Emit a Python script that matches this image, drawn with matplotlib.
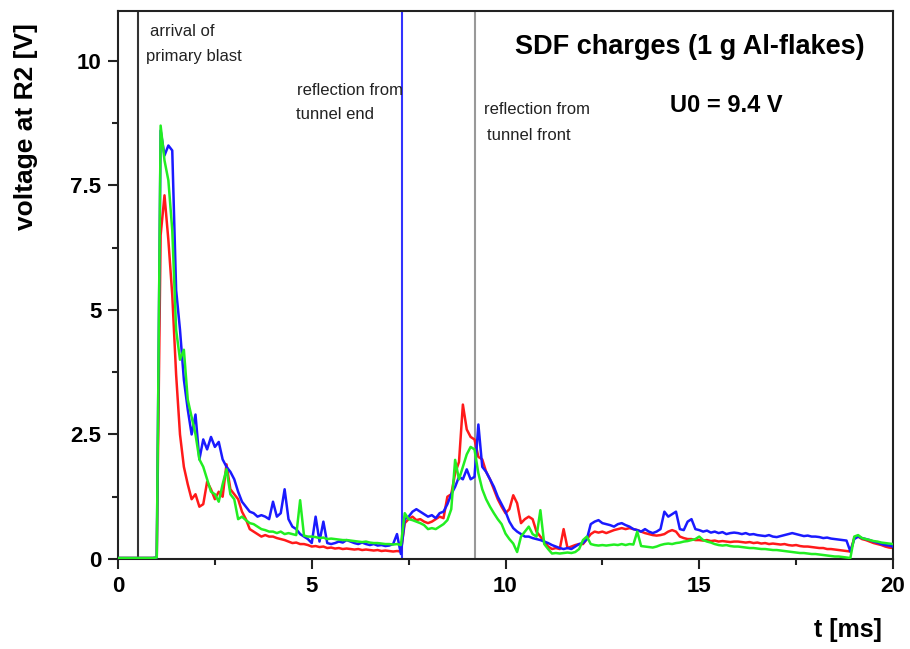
import numpy as np
import matplotlib
matplotlib.use("Agg")
import matplotlib.pyplot as plt

# time axis: 0 .. 20 ms in 0.1 ms steps
t_start, t_stop, t_step = 0.0, 20.0, 0.1

blue = [
    0.02, 0.02, 0.02, 0.02, 0.02, 0.02, 0.02, 0.02, 0.02, 0.02,
    0.03, 8.6, 8.1, 8.3, 8.2, 5.4, 4.6, 3.6, 3.0, 2.5,
    2.9, 2.0, 2.4, 2.2, 2.45, 2.25, 2.35, 2.0, 1.85, 1.75,
    1.6, 1.35, 1.15, 1.05, 0.95, 0.92, 0.85, 0.88, 0.85, 0.8,
    1.15, 0.85, 0.92, 1.4, 0.8, 0.65, 0.6, 0.5, 0.45, 0.4,
    0.32, 0.85, 0.35, 0.75, 0.32, 0.3, 0.32, 0.35, 0.33, 0.38,
    0.35, 0.32, 0.3, 0.33, 0.3, 0.28, 0.3, 0.27, 0.28, 0.26,
    0.27, 0.3, 0.5, 0.1, 0.8, 0.85, 0.95, 1.0, 0.95, 0.9,
    0.85, 0.88, 0.82, 0.92, 0.95, 1.1, 1.3, 1.45, 1.65, 1.6,
    1.8, 1.6, 1.65, 2.7, 1.85, 1.75, 1.6, 1.45, 1.25, 1.1,
    0.95, 0.75, 0.62, 0.55, 0.5, 0.45, 0.45, 0.42, 0.4, 0.38,
    0.35, 0.32, 0.28, 0.25, 0.22, 0.2, 0.22, 0.2, 0.25, 0.3,
    0.32, 0.4, 0.7, 0.75, 0.78, 0.72, 0.7, 0.68, 0.65, 0.7,
    0.72, 0.68, 0.65, 0.6, 0.58, 0.55, 0.6, 0.55, 0.52, 0.55,
    0.6, 0.95, 0.85, 0.9, 0.95, 0.6, 0.58, 0.75, 0.8, 0.6,
    0.58, 0.55, 0.57, 0.53, 0.55, 0.52, 0.54, 0.5, 0.52, 0.53,
    0.52, 0.5, 0.52, 0.49, 0.5, 0.48, 0.47, 0.46, 0.48, 0.45,
    0.44, 0.46, 0.48, 0.5, 0.52, 0.5, 0.48, 0.46, 0.47, 0.45,
    0.45, 0.44, 0.42, 0.43, 0.41, 0.4, 0.39, 0.38, 0.37, 0.15,
    0.4, 0.45, 0.42, 0.4, 0.38, 0.35, 0.33, 0.3, 0.28, 0.27,
    0.25,
]

red = [
    0.02, 0.02, 0.02, 0.02, 0.02, 0.02, 0.02, 0.02, 0.02, 0.02,
    0.02, 6.5, 7.3, 6.4, 5.3, 3.7, 2.5, 1.85, 1.5, 1.2,
    1.3, 1.05, 1.1, 1.55, 1.4, 1.2, 1.35, 1.25, 1.9, 1.4,
    1.3, 1.2, 0.95, 0.8, 0.6, 0.55, 0.5, 0.45, 0.48, 0.45,
    0.45, 0.42, 0.4, 0.38, 0.35, 0.32, 0.33, 0.3, 0.3, 0.28,
    0.25, 0.26, 0.24, 0.25, 0.22, 0.23, 0.21, 0.22, 0.2, 0.21,
    0.2, 0.19, 0.2, 0.18, 0.19, 0.18, 0.17, 0.18, 0.16, 0.17,
    0.16, 0.15, 0.16, 0.15, 0.72, 0.8, 0.85, 0.78, 0.8, 0.75,
    0.72, 0.75, 0.8, 0.85, 0.82, 1.25, 1.3, 1.72, 1.95, 3.1,
    2.6, 2.45, 2.4, 2.05, 2.0, 1.75, 1.6, 1.4, 1.2, 1.05,
    0.92, 1.0, 1.28, 1.12, 0.72, 0.8, 0.85, 0.8, 0.55, 0.45,
    0.35, 0.25, 0.2, 0.22, 0.2, 0.6, 0.22, 0.25, 0.28, 0.3,
    0.3, 0.4, 0.5, 0.55, 0.53, 0.55, 0.52, 0.55, 0.58, 0.6,
    0.62, 0.6, 0.62, 0.6, 0.58, 0.55, 0.52, 0.5, 0.48, 0.47,
    0.48, 0.5, 0.55, 0.58, 0.55, 0.45, 0.42, 0.4, 0.4, 0.38,
    0.38, 0.37, 0.38, 0.36, 0.37, 0.35, 0.36, 0.35, 0.34, 0.35,
    0.35, 0.34, 0.33, 0.34, 0.32, 0.33, 0.31, 0.32, 0.3, 0.31,
    0.3, 0.29, 0.3, 0.28, 0.27, 0.28, 0.26, 0.25, 0.25, 0.24,
    0.23, 0.22, 0.22, 0.2, 0.2, 0.19, 0.18, 0.17, 0.16, 0.15,
    0.42, 0.45, 0.4, 0.38, 0.35, 0.32, 0.3, 0.28, 0.25, 0.23,
    0.22,
]

green = [
    0.02, 0.02, 0.02, 0.02, 0.02, 0.02, 0.02, 0.02, 0.02, 0.02,
    0.03, 8.7, 8.0, 7.6, 6.6, 4.6, 4.0, 4.2, 3.2, 2.85,
    2.5, 2.0, 1.85, 1.6, 1.35, 1.3, 1.15, 1.5, 1.8, 1.3,
    1.2, 0.8, 0.85, 0.78, 0.72, 0.7, 0.65, 0.6, 0.58, 0.55,
    0.55, 0.52, 0.55, 0.5, 0.52, 0.5, 0.48, 1.18, 0.47, 0.45,
    0.45, 0.44, 0.42, 0.43, 0.4, 0.41, 0.4, 0.39, 0.38, 0.38,
    0.37, 0.36, 0.35, 0.34, 0.35, 0.33, 0.32, 0.32, 0.31, 0.3,
    0.3, 0.29, 0.3, 0.28, 0.92, 0.8, 0.78, 0.75, 0.72, 0.68,
    0.6, 0.62, 0.6, 0.65, 0.7, 0.78, 1.0, 1.99, 1.6, 1.85,
    2.1, 2.25, 2.2, 1.72, 1.4, 1.2, 1.05, 0.92, 0.8, 0.7,
    0.51, 0.4, 0.31, 0.14, 0.45, 0.55, 0.65, 0.5, 0.45, 0.98,
    0.3, 0.2, 0.11, 0.12, 0.11, 0.12, 0.13, 0.12, 0.14, 0.2,
    0.38, 0.45, 0.3, 0.28, 0.27, 0.28, 0.27, 0.28, 0.29, 0.28,
    0.3, 0.28, 0.3, 0.29, 0.55, 0.26, 0.25, 0.24, 0.23, 0.25,
    0.28, 0.3, 0.31, 0.3, 0.32, 0.33, 0.35, 0.36, 0.38, 0.4,
    0.45, 0.38, 0.35, 0.33, 0.3, 0.28, 0.27, 0.28, 0.26, 0.25,
    0.25, 0.24, 0.23, 0.22, 0.22, 0.21, 0.2, 0.2, 0.19, 0.18,
    0.18, 0.17, 0.16, 0.15, 0.14, 0.13, 0.12, 0.12, 0.11, 0.1,
    0.1, 0.09, 0.08, 0.07, 0.06, 0.05, 0.05, 0.04, 0.03, 0.02,
    0.45, 0.48, 0.42, 0.4, 0.38, 0.36, 0.35, 0.33, 0.32, 0.31,
    0.3,
]

event_times = [0.52, 7.32, 9.2]
event_colors = ["#333333", "#3333ff", "#999999"]
annotations = [
    (0.83, 10.58, "arrival of"),
    (0.72, 10.08, "primary blast"),
    (4.62, 9.4, "reflection from"),
    (4.59, 8.92, "tunnel end"),
    (9.45, 9.02, "reflection from"),
    (9.52, 8.51, "tunnel front"),
]

x_ticks = [0, 5, 10, 15, 20]
x_ticklabels = ["0", "5", "10", "15", "20"]
y_ticks = [0, 2.5, 5, 7.5, 10]
y_ticklabels = ["0", "2.5", "5", "7.5", "10"]

plt.rcParams["font.family"] = ["Liberation Sans", "DejaVu Sans"]

t = np.linspace(t_start, t_stop, len(blue))

fig = plt.figure(figsize=(9.1, 6.49), dpi=100)
ax = fig.add_axes([118 / 910, 1 - 559 / 649, 775 / 910, 548 / 649])

for xe, ce in zip(event_times, event_colors):
    ax.axvline(xe, color=ce, lw=1.5, zorder=1)

ax.plot(t, red, color="#ff1a1a", lw=1.8, zorder=2)
ax.plot(t, blue, color="#1a1aff", lw=1.8, zorder=3)
ax.plot(t, green, color="#22ee22", lw=1.8, zorder=4)

ax.set_xlim(0, 20)
ax.set_ylim(0, 11.0)
ax.set_xticks(x_ticks)
ax.set_xticklabels(x_ticklabels)
ax.set_yticks(y_ticks)
ax.set_yticklabels(y_ticklabels)
ax.set_xticks([2.5, 7.5, 12.5, 17.5], minor=True)
ax.set_yticks([1.25, 3.75, 6.25, 8.75], minor=True)
ax.tick_params(which="major", direction="out", length=7, width=1.5, color="#222222",
               labelsize=16, pad=5)
ax.tick_params(which="minor", direction="out", length=4, width=1.5, color="#222222")
for lab in ax.get_xticklabels() + ax.get_yticklabels():
    lab.set_fontweight("bold")
for sp in ax.spines.values():
    sp.set_linewidth(1.5)
    sp.set_color("#222222")

ax.set_ylabel("voltage at R2 [V]", fontsize=19, fontweight="bold")
ax.yaxis.set_label_coords(-0.103, 0.79)
ax.set_xlabel("t [ms]", fontsize=18, fontweight="bold")
ax.xaxis.set_label_coords(0.942, -0.108)

ax.text(0.964, 0.934, "SDF charges (1 g Al-flakes)", transform=ax.transAxes,
        ha="right", va="center", fontsize=19.5, fontweight="bold")
ax.text(0.712, 0.828, "U0 = 9.4 V", transform=ax.transAxes,
        ha="left", va="center", fontsize=17, fontweight="bold")
for xa, ya, txt in annotations:
    ax.text(xa, ya, txt, ha="left", va="center", fontsize=12, color="#222222")

fig.savefig("out.png", dpi=100)
